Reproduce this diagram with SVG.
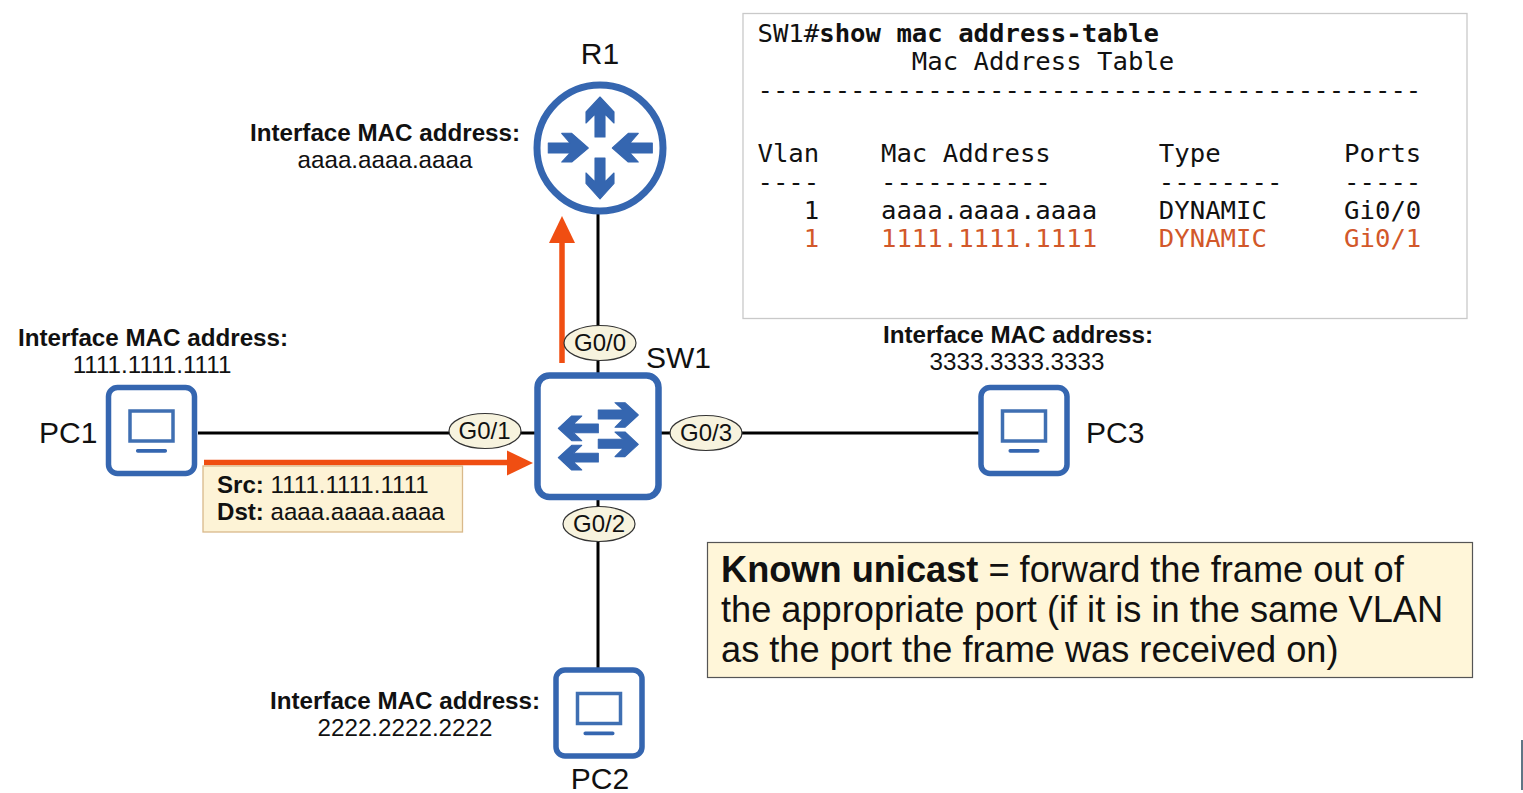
<svg xmlns="http://www.w3.org/2000/svg" width="1523" height="793" viewBox="0 0 1523 793">
<style>
text{font-family:"Liberation Sans",Arial,sans-serif;fill:#111}
.dev{fill:#fff;stroke:#3566b0;stroke-width:5.500}
.ic{fill:#3566b0;stroke:#3566b0;stroke-width:1.100;stroke-linejoin:round}
.icl{fill:none;stroke:#3f6fb2;stroke-width:3.500}
.lbl{font-size:30px}
.h{font-size:24.200px;font-weight:700;text-anchor:middle}
.m{font-size:24.200px;text-anchor:middle}
.pl{fill:#f7f3de;stroke:#333;stroke-width:1.200}
.pt{font-size:24px;text-anchor:middle}
.mono{font-family:"DejaVu Sans Mono","Liberation Mono",monospace;font-size:25.650px;white-space:pre}
.red{fill:#d2582a}
.link{stroke:#000;stroke-width:3;fill:none}
.o{stroke:#f04e12;stroke-width:5.500;fill:none}
.of{fill:#f04e12}
</style>
<defs>
<g id="pc">
<rect class="dev" x="-43" y="-43" width="86" height="86" rx="9"/>
<rect class="icl" x="-21.500" y="-19.500" width="43" height="30"/>
<rect class="ic" x="-15" y="19" width="30" height="2.600" rx="1.300"/>
</g>
</defs>
<g id="connectors">
<path class="link" d="M598 213V373M198 433H535M661 433H979M598 498V668"/>
<path class="o" d="M562 363V240"/><path class="of" d="M562 216L575 243H549Z"/>
<path class="o" d="M204 462.500H508"/><path class="of" d="M533 463L507 450.500V475.500Z"/>
</g>
<g id="cli">
<rect x="743" y="13.500" width="724" height="305" fill="#fff" stroke="#c9c9c9" stroke-width="1.300"/>
<text class="mono" x="757.500" y="42" xml:space="preserve">SW1#<tspan font-weight="700">show mac address-table</tspan></text>
<text class="mono" x="757.500" y="70" xml:space="preserve">          Mac Address Table</text>
<text class="mono" x="757.500" y="99" xml:space="preserve">-------------------------------------------</text>
<text class="mono" x="757.500" y="162" xml:space="preserve">Vlan    Mac Address       Type        Ports</text>
<text class="mono" x="757.500" y="191" xml:space="preserve">----    -----------       --------    -----</text>
<text class="mono" x="757.500" y="219" xml:space="preserve">   1    aaaa.aaaa.aaaa    DYNAMIC     Gi0/0</text>
<text class="mono red" x="757.500" y="247" xml:space="preserve">   1    1111.1111.1111    DYNAMIC     Gi0/1</text>
</g>
<g id="R1">
<circle class="dev" cx="600" cy="148" r="63" style="stroke-width:7"/>
<path class="ic" d="M600 97L614 112V123L605 114V137H595V114L586 123V112Z"/>
<path class="ic" d="M600 199L614 183.500V173L605 182V158H595V182L586 173V183.500Z"/>
<path class="ic" d="M588.300 148L571.700 133.300H561.700L570 143H548.300V153H570L561.700 162H571.700Z"/>
<path class="ic" d="M612.300 148L628.300 133.300H638.300L630 143H652.300V153H630L638.300 162H628.300Z"/>
<text class="lbl" x="600" y="64" text-anchor="middle">R1</text>
<text class="h" x="385" y="141">Interface MAC address:</text>
<text class="m" x="385" y="168">aaaa.aaaa.aaaa</text>
</g>
<g id="SW1">
<rect class="dev" x="537.500" y="375.500" width="121" height="121.500" rx="12" style="stroke-width:6.500"/>
<path class="ic" d="M598.300 410H623.300L615 402.700H625L638.300 415L625 427.300H615L623.300 419H598.300Z"/>
<path class="ic" d="M598.300 439.300H623.300L615 432H625L638.300 444.300L625 456.600H615L623.300 448.300H598.300Z"/>
<path class="ic" d="M598.300 424H573.300L581.700 416H571.700L558.300 428.300L571.700 440.700H581.700L573.300 432.700H598.300Z"/>
<path class="ic" d="M598.300 453.300H573.300L581.700 445.300H571.700L558.300 457.600L571.700 470H581.700L573.300 462H598.300Z"/>
<text class="lbl" x="646" y="368">SW1</text>
</g>
<g id="PC1">
<use href="#pc" x="151.500" y="430.500"/>
<text class="lbl" x="39" y="443">PC1</text>
<text class="h" x="153" y="346">Interface MAC address:</text>
<text class="m" x="152" y="373">1111.1111.1111</text>
</g>
<g id="PC2">
<use href="#pc" x="599" y="713"/>
<text class="lbl" x="600" y="789" text-anchor="middle">PC2</text>
<text class="h" x="405" y="709">Interface MAC address:</text>
<text class="m" x="405" y="736">2222.2222.2222</text>
</g>
<g id="PC3">
<use href="#pc" x="1024" y="430.500"/>
<text class="lbl" x="1086" y="443">PC3</text>
<text class="h" x="1018" y="343">Interface MAC address:</text>
<text class="m" x="1017" y="370">3333.3333.3333</text>
</g>
<g id="ports">
<ellipse class="pl" cx="600" cy="343" rx="36" ry="17.500"/><text class="pt" x="600" y="351">G0/0</text>
<ellipse class="pl" cx="485" cy="431" rx="36" ry="17.500"/><text class="pt" x="484.500" y="439">G0/1</text>
<ellipse class="pl" cx="599" cy="524" rx="36" ry="17.500"/><text class="pt" x="599" y="532">G0/2</text>
<ellipse class="pl" cx="706" cy="433" rx="36" ry="17.500"/><text class="pt" x="706" y="441">G0/3</text>
</g>
<g id="frame">
<rect x="203" y="466" width="259.500" height="66" fill="#fdf3d6" stroke="#d9b98a" stroke-width="1.300"/>
<text x="217" y="493" font-size="24.100"><tspan font-weight="700">Src:</tspan> 1111.1111.1111</text>
<text x="217" y="520" font-size="24.100"><tspan font-weight="700">Dst:</tspan> aaaa.aaaa.aaaa</text>
</g>
<g id="note">
<rect x="707.500" y="542.500" width="765" height="135" fill="#fff6d9" stroke="#555" stroke-width="1.200"/>
<text x="721" y="582" font-size="36.200"><tspan font-weight="700">Known unicast</tspan> = forward the frame out of</text>
<text x="721" y="622" font-size="36.200">the appropriate port (if it is in the same VLAN</text>
<text x="721" y="662" font-size="36.200">as the port the frame was received on)</text>
</g>
<rect x="1521" y="740" width="2" height="50" fill="#5f7585"/>
</svg>
